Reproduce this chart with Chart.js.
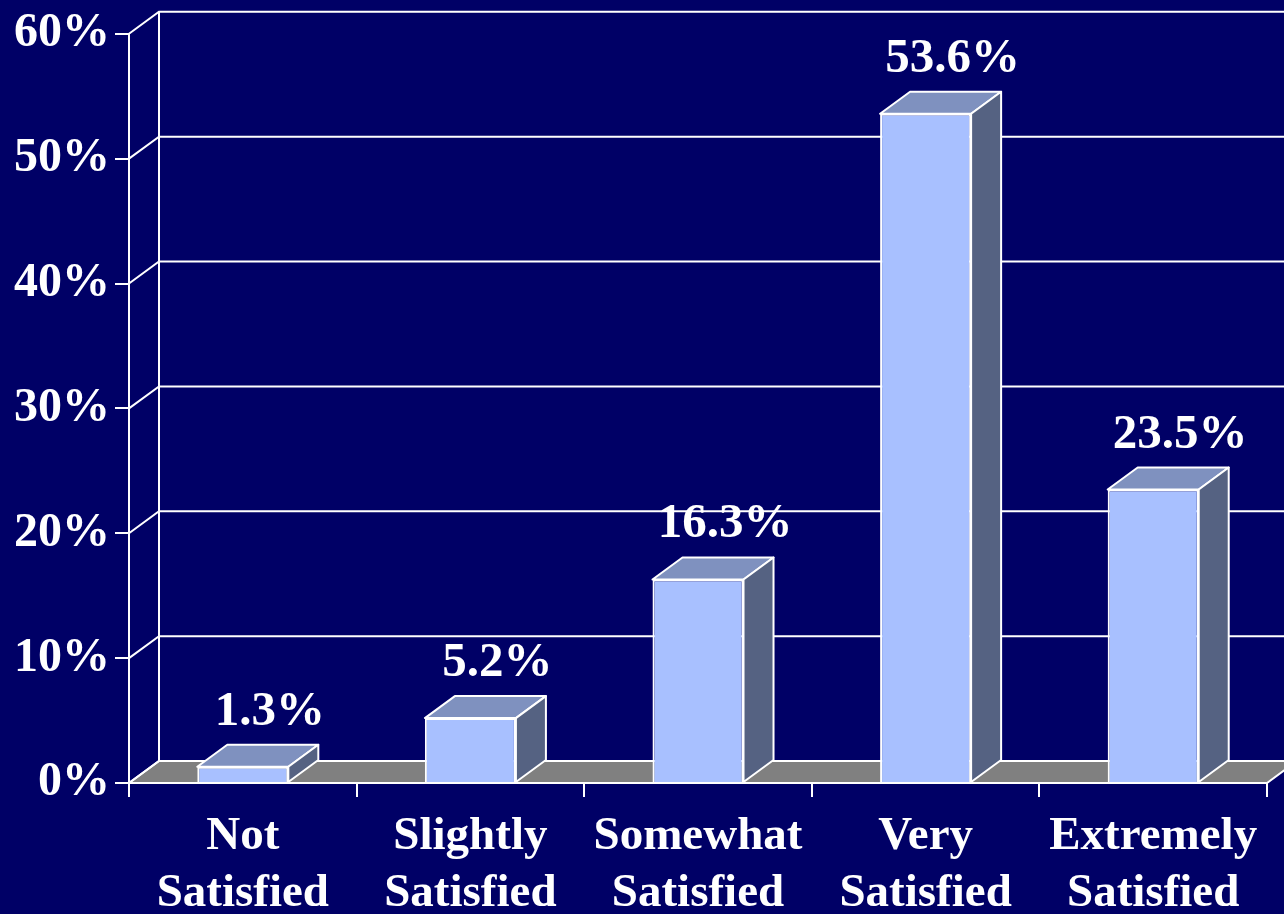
<!DOCTYPE html>
<html>
<head>
<meta charset="utf-8">
<title>Satisfaction</title>
<script src="https://cdn.jsdelivr.net/npm/chart.js@4/dist/chart.umd.min.js"></script>
<style>
    html, body {
        margin: 0;
        padding: 0;
        background: #000066;
    }
    #wrap {
        width: 1284px;
        height: 914px;
        position: relative;
    }
</style>
</head>
<body>
<div id="wrap"><canvas id="satisfactionChart"></canvas></div>
<script>
const categories = [
    ['Not', 'Satisfied'],
    ['Slightly', 'Satisfied'],
    ['Somewhat', 'Satisfied'],
    ['Very', 'Satisfied'],
    ['Extremely', 'Satisfied']
];
const percentages = [1.3, 5.2, 16.3, 53.6, 23.5];
const yTicks = [0, 10, 20, 30, 40, 50, 60];

// depth of the 3d box (offset of the back plane)
const DEPTH_X = 30;
const DEPTH_Y = -22;
const FONT = '"Liberation Serif", "Times New Roman", serif';

const frontColor = '#a8c0ff';
const topColor = '#7f91bf';
const sideColor = '#556282';
const floorColor = '#808080';
const lineColor = '#ffffff';

const box3d = {
    id: 'box3d',
    beforeDatasetsDraw(chart) {
        const ctx = chart.ctx;
        const x = chart.scales.x;
        const y = chart.scales.y;
        const left = x.left, right = x.right;
        const base = y.getPixelForValue(0);
        const top = y.getPixelForValue(yTicks[yTicks.length - 1]);

        ctx.save();
        ctx.strokeStyle = lineColor;
        ctx.lineWidth = 2;

        // floor
        ctx.fillStyle = floorColor;
        ctx.beginPath();
        ctx.moveTo(left, base);
        ctx.lineTo(right, base);
        ctx.lineTo(right + DEPTH_X, base + DEPTH_Y);
        ctx.lineTo(left + DEPTH_X, base + DEPTH_Y);
        ctx.closePath();
        ctx.fill();
        ctx.stroke();

        // back wall grid + side wall diagonals
        yTicks.forEach(v => {
            const py = y.getPixelForValue(v);
            ctx.beginPath();
            ctx.moveTo(left, py);
            ctx.lineTo(left + DEPTH_X, py + DEPTH_Y);
            ctx.lineTo(right + DEPTH_X, py + DEPTH_Y);
            ctx.stroke();
        });

        // back wall corner
        ctx.beginPath();
        ctx.moveTo(left + DEPTH_X, top + DEPTH_Y);
        ctx.lineTo(left + DEPTH_X, base + DEPTH_Y);
        ctx.stroke();
        ctx.restore();
    },
    afterDatasetsDraw(chart) {
        const ctx = chart.ctx;
        const meta = chart.getDatasetMeta(0);
        ctx.save();
        ctx.strokeStyle = lineColor;
        ctx.lineWidth = 2;
        ctx.lineJoin = 'round';

        meta.data.forEach((bar, i) => {
            const p = bar.getProps(['x', 'y', 'base', 'width'], true);
            const x0 = p.x - p.width / 2;
            const x1 = p.x + p.width / 2;

            // top face
            ctx.fillStyle = topColor;
            ctx.beginPath();
            ctx.moveTo(x0, p.y);
            ctx.lineTo(x0 + DEPTH_X, p.y + DEPTH_Y);
            ctx.lineTo(x1 + DEPTH_X, p.y + DEPTH_Y);
            ctx.lineTo(x1, p.y);
            ctx.closePath();
            ctx.fill();
            ctx.stroke();

            // right side face
            ctx.fillStyle = sideColor;
            ctx.beginPath();
            ctx.moveTo(x1, p.y);
            ctx.lineTo(x1 + DEPTH_X, p.y + DEPTH_Y);
            ctx.lineTo(x1 + DEPTH_X, p.base + DEPTH_Y);
            ctx.lineTo(x1, p.base);
            ctx.closePath();
            ctx.fill();
            ctx.stroke();

            // value label
            ctx.fillStyle = '#ffffff';
            ctx.font = 'bold 49px ' + FONT;
            ctx.textAlign = 'center';
            ctx.textBaseline = 'alphabetic';
            ctx.fillText(percentages[i].toFixed(1) + '%', p.x + 27, p.y + DEPTH_Y - 20);
        });
        ctx.restore();
    }
};

new Chart(document.getElementById('satisfactionChart'), {
    type: 'bar',
    data: {
        labels: categories,
        datasets: [{
            data: percentages,
            backgroundColor: frontColor,
            borderColor: lineColor,
            borderWidth: 2,
            barPercentage: 0.4,
            categoryPercentage: 1.0
        }]
    },
    options: {
        responsive: true,
        maintainAspectRatio: false,
        animation: false,
        layout: {
            padding: { top: 33, right: 17, bottom: 0, left: 0 }
        },
        plugins: {
            legend: { display: false },
            tooltip: { enabled: false }
        },
        scales: {
            x: {
                offset: true,
                grid: {
                    offset: true,
                    drawOnChartArea: false,
                    drawTicks: true,
                    tickLength: 14,
                    color: lineColor,
                    lineWidth: 2
                },
                border: { display: true, color: lineColor, width: 2 },
                ticks: {
                    color: '#ffffff',
                    padding: 12,
                    maxRotation: 0,
                    font: { family: FONT, size: 47, weight: 'bold', lineHeight: 1.2 }
                },
                afterFit(scale) {
                    scale.height = 131;
                }
            },
            y: {
                min: 0,
                max: 60,
                grid: {
                    drawOnChartArea: false,
                    drawTicks: true,
                    tickLength: 14,
                    color: lineColor,
                    lineWidth: 2
                },
                border: { display: true, color: lineColor, width: 2 },
                ticks: {
                    stepSize: 10,
                    color: '#ffffff',
                    padding: 5,
                    font: { family: FONT, size: 48, weight: 'bold' },
                    callback: v => v + '%'
                },
                afterFit(scale) {
                    scale.width = 129;
                }
            }
        }
    },
    plugins: [box3d]
});
</script>
</body>
</html>
